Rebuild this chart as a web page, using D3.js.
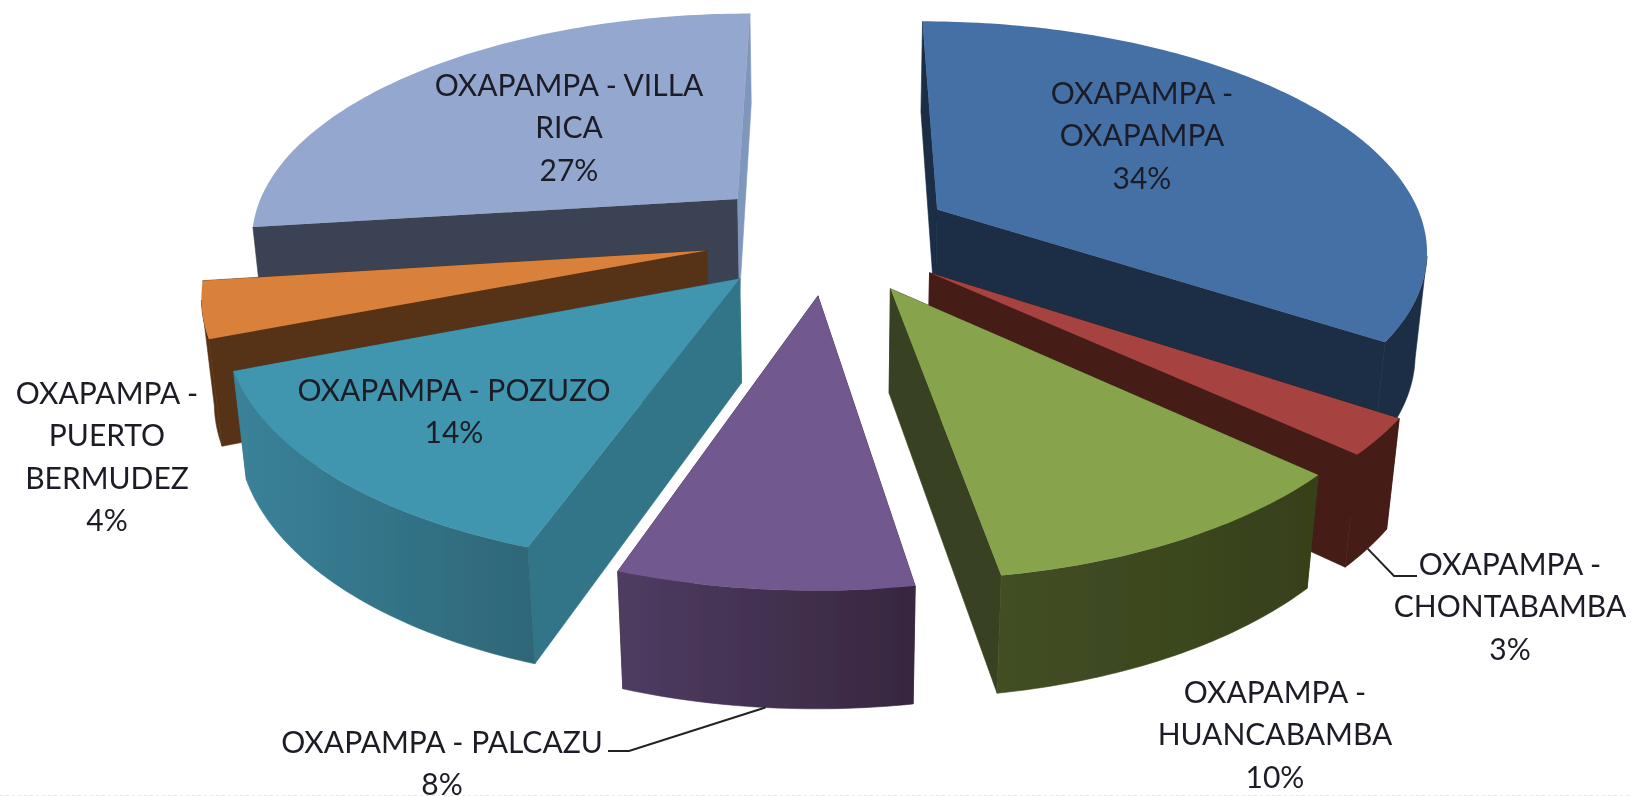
<!DOCTYPE html>
<html><head><meta charset="utf-8">
<script src="https://cdn.jsdelivr.net/npm/d3@7"></script>
<style>html,body{margin:0;padding:0;background:#fff;overflow:hidden}svg{display:block}text{font-family:Lato,"Open Sans",sans-serif;font-size:30px;fill:#1d1d28;text-anchor:middle;dominant-baseline:central}</style>
</head><body><svg id="c" width="1631" height="797"></svg>
<script>
const categories = ["OXAPAMPA - OXAPAMPA","OXAPAMPA - CHONTABAMBA","OXAPAMPA - HUANCABAMBA","OXAPAMPA - PALCAZU","OXAPAMPA - POZUZO","OXAPAMPA - PUERTO BERMUDEZ","OXAPAMPA - VILLA RICA"];
const shares = [34.4,2.5,10.5,7.9,13.8,3.85,27.05];
const topColors = ["#4470a6","#a64340","#87a44d","#71588f","#4096ae","#d9803a","#93a7cf"];
const rimLeft = ["#1b2d45","#451b18","#424f24","#4e3c62","#3a8299","#573217","#3b4252"];
const rimRight = ["#1b2d45","#451b18","#364019","#37273f","#2e6678","#573217","#3b4252"];
const cutColors = ["#1b2d45","#451b18","#384220","#37273f","#327588","#573217","#3b4252"];
const cutEndColors = ["#1b2d45","#451b18","#384220","#37273f","#327588","#573217","#7f96bd"];
const labelLines = [["OXAPAMPA -","OXAPAMPA","34%"],["OXAPAMPA -","CHONTABAMBA","3%"],["OXAPAMPA -","HUANCABAMBA","10%"],["OXAPAMPA - PALCAZU","8%"],["OXAPAMPA - POZUZO","14%"],["OXAPAMPA -","PUERTO","BERMUDEZ","4%"],["OXAPAMPA - VILLA","RICA","27%"]];
const labelCentres = [[1142,92],[1510,563],[1275,691],[442,741],[454,389],[107,392],[569,84]];

const view = {cx:829, cy:236, A:490, B:226, k:0.16, m:0.02, h:104, explode:0.255};
const svg = d3.select("#c");
const defs = svg.append("defs");
defs.append("filter").attr("id","soft").attr("x",0).attr("y",0)
  .attr("filterUnits","userSpaceOnUse").attr("width",1631).attr("height",797)
  .append("feGaussianBlur").attr("stdDeviation",0.6);
const root = svg.append("g").attr("filter","url(#soft)");
const arcs = d3.pie().sort(null).value(d=>d).startAngle(0).endAngle(2*Math.PI)(shares);

function project(d, a, r, z){
  const mid=(d.startAngle+d.endAngle)/2;
  const X=view.explode*Math.sin(mid)+r*Math.sin(a), Y=view.explode*Math.cos(mid)+r*Math.cos(a);
  const w=1+view.k*Y+view.m*z;
  return [view.cx+view.A*X/w, view.cy+(-view.B*Y+view.h*z)/w];
}
function facesViewer(d,a){
  const mid=(d.startAngle+d.endAngle)/2;
  return -Math.cos(a)/view.k-view.explode*Math.sin(mid)*Math.sin(a)-view.explode*Math.cos(mid)*Math.cos(a)-1>0;
}
const line=d3.line();
const closed=p=>line(p)+"Z";
const order=d3.range(arcs.length).sort((i,j)=>{
  const m=d=>Math.cos((d.startAngle+d.endAngle)/2);
  return m(arcs[j])-m(arcs[i]);
});
order.forEach(i=>{
  const d=arcs[i];
  const n=Math.max(8,Math.round((d.endAngle-d.startAngle)*60));
  const angles=d3.range(n+1).map(t=>d.startAngle+(d.endAngle-d.startAngle)*t/n);
  const topRim=angles.map(a=>project(d,a,1,0));
  const seen=angles.filter(a=>facesViewer(d,a));
  const rimT=seen.map(a=>project(d,a,1,0)), rimB=seen.map(a=>project(d,a,1,1));
  const apexT=project(d,0,0,0), apexB=project(d,0,0,1);
  const g=root.append("g").attr("class","slice");
  g.append("path").attr("d",closed([apexT,topRim[0],project(d,d.startAngle,1,1),apexB])).attr("fill",cutColors[i]).attr("stroke",cutColors[i]).attr("stroke-width",0.6);
  g.append("path").attr("d",closed([apexT,topRim[n],project(d,d.endAngle,1,1),apexB])).attr("fill",cutEndColors[i]).attr("stroke",cutEndColors[i]).attr("stroke-width",0.6);
  if(seen.length>1){
    const xs=rimT.concat(rimB).map(p=>p[0]);
    const grad=defs.append("linearGradient").attr("id","rim"+i).attr("gradientUnits","userSpaceOnUse")
      .attr("x1",d3.min(xs)).attr("x2",d3.max(xs)).attr("y1",0).attr("y2",0);
    grad.append("stop").attr("offset",0).attr("stop-color",rimLeft[i]);
    grad.append("stop").attr("offset",1).attr("stop-color",rimRight[i]);
    g.append("path").attr("d",closed(rimT.concat(rimB.slice().reverse()))).attr("fill",`url(#rim${i})`).attr("stroke",`url(#rim${i})`).attr("stroke-width",0.6);
  }
  g.append("path").attr("d",closed([apexT].concat(topRim))).attr("fill",topColors[i]);
});
// leader lines
const leader=(i,f,pts)=>root.append("path").attr("fill","none").attr("stroke","#222").attr("stroke-width",2)
  .attr("d",line([project(arcs[i],arcs[i].startAngle+(arcs[i].endAngle-arcs[i].startAngle)*f,1,1)].concat(pts)));
leader(1,0.5,[[1394,576],[1417,576]]);
leader(3,0.5,[[629,751],[608,751]]);
// labels
labelLines.forEach((ls,i)=>{
  const t=root.append("text");
  ls.forEach((s,j)=>t.append("tspan").attr("x",labelCentres[i][0]).attr("y",labelCentres[i][1]+j*42.4).text(s));
});
svg.append("line").attr("x1",0).attr("x2",1631).attr("y1",795.5).attr("y2",795.5).attr("stroke","#e8e8e8").attr("stroke-dasharray","3 3");
</script></body></html>
